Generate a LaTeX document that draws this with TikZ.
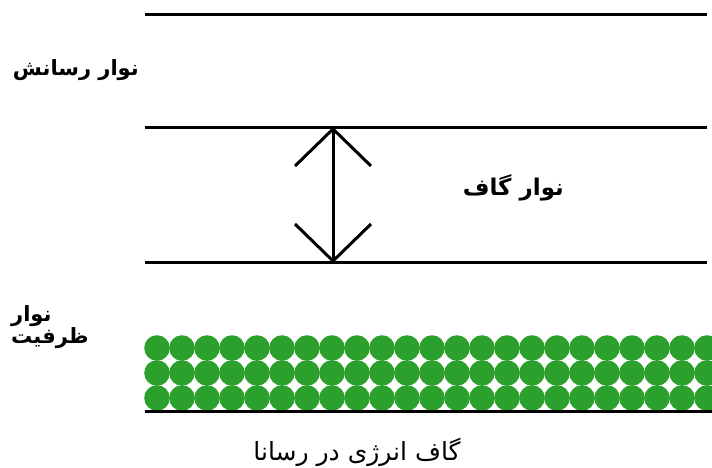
\documentclass[tikz,border=0pt]{standalone}
\usepackage{fontspec}
\newfontfamily\arabicfont[Script=Arabic]{DejaVu Sans}
\TeXXeTstate=1
\usetikzlibrary{arrows.meta}
\definecolor{dotgreen}{RGB}{44,160,44}
\begin{document}
\begin{tikzpicture}[x=1pt,y=-1pt,
  band/.style={line width=3pt},
  label/.style={font=\arabicfont\bfseries\fontsize{21}{21}\selectfont, inner sep=0pt, align=right},
  dot/.style={fill=dotgreen, draw=none}]
\useasboundingbox (0,0) rectangle (712,468);
% band lines
\coordinate (t1l) at (145,15);  \coordinate (t1r) at (707,15);
\coordinate (t2l) at (145,128); \coordinate (t2r) at (707,128);
\coordinate (t3l) at (145,262); \coordinate (t3r) at (707,262);
\coordinate (t4l) at (145,411); \coordinate (t4r) at (712,411);
\draw[band] (t1l) -- (t1r);
\draw[band] (t2l) -- (t2r);
\draw[band] (t3l) -- (t3r);
% valence band dots
\foreach \r in {0,1,2}{
  \foreach \c in {0,...,22}{
    \fill[dot] ({157+25*\c},{348+25*\r}) circle (12.8);
  }
}
\draw[band] (t4l) -- (t4r);
% gap arrow
\coordinate (gtop) at (333,129);
\coordinate (gbot) at (333,261);
\draw[line width=3pt] (gtop) -- (gbot);
\draw[line width=3pt] (295,166) -- (gtop) -- (371,166);
\draw[line width=3pt] (295,224) -- (gbot) -- (371,224);
% labels
\node[label, anchor=east] (cond) at (139,70) {\beginR نوار رسانش\endR};
\node[label, anchor=east, font=\arabicfont\bfseries\fontsize{23}{23}\selectfont] (gap) at (564,188) {\beginR نوار گاف\endR};
\node[label, anchor=north west, align=left] (val) at (11,305) {\beginR نوار\endR\\\beginR ظرفیت\endR};
\node[label, anchor=center, font=\arabicfont\fontsize{25}{28}\selectfont] (cap) at (357,452) {\beginR گاف انرژی در رسانا\endR};
\end{tikzpicture}
\end{document}
